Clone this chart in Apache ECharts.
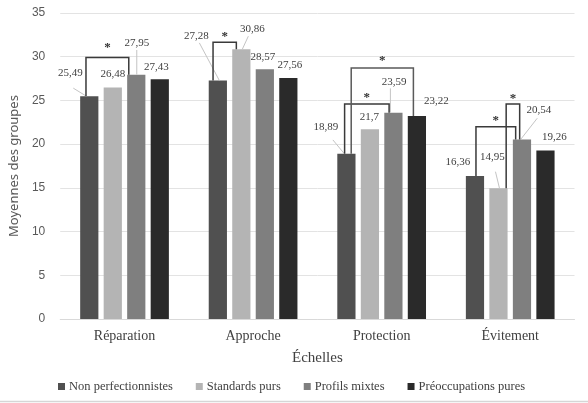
<!DOCTYPE html>
<html><head><meta charset="utf-8">
<script src="https://cdn.jsdelivr.net/npm/echarts@6/dist/echarts.min.js"></script>
<style>html,body{margin:0;padding:0;background:#fff}#c{width:588px;height:403px}</style>
</head><body><div id="c"></div>
<script>
// ---- data ----
const categories = ['Réparation', 'Approche', 'Protection', 'Évitement'];
const seriesNames = ['Non perfectionnistes', 'Standards purs', 'Profils mixtes', 'Préoccupations pures'];
const nonPerfectionnistes = [25.49, 27.28, 18.89, 16.36];
const standardsPurs = [26.48, 30.86, 21.7, 14.95];
const profilsMixtes = [27.95, 28.57, 23.59, 20.54];
const preoccupationsPures = [27.43, 27.56, 23.22, 19.26];
const yTicks = [0, 5, 10, 15, 20, 25, 30, 35];
// significance brackets: [category index, from series, to series, bracket top value]
const brackets = [
  [0, 0, 2, 29.9],
  [1, 0, 1, 31.65],
  [2, 0, 2, 24.6],
  [2, 0, 3, 28.7],
  [3, 0, 2, 22.0],
  [3, 1, 2, 24.6]
];

// ---- layout / style (pixels) ----
const seriesValues = [nonPerfectionnistes, standardsPurs, profilsMixtes, preoccupationsPures];
const colors = ['#505050', '#b4b4b4', '#7f7f7f', '#2a2a2a'];
const CAT_GAP = 0.31, BAR_GAP = 0.29;
// label offsets [dx, dy] from bar top centre, optional leader [barDx, labelDx, labelDy]
const labelLayout = [
  [[-19, -23, [-3, 3, 15]], [-21.5, -44.6, [1.5, 3, 7]], [-20.5, -26.6, [-2, 7, 12.7]], [-17, -14.3, null]],
  [[0, -13.6, null], [11, -20, [1, -4, 7]], [-0.5, -12.6, null], [-6, -31, [1, 3, 14.4]]],
  [[0.5, -31.7, [0.5, 0, 7]], [-2, -12.6, null], [0.7, -31, [-3, -3.7, 6.6]], [17, -29.5, [-1.3, -1.7, 8.3]]],
  [[-3.5, -12.3, null], [1.5, -13, null], [19.5, -14.4, null], [9, -13.4, null]]
];
// bracket end nudges [left dx, right dx, star gap]
const bracketNudge = [[-3.3, -7.5, 10], [-4.8, -5, 6], [-1.8, -4.3, 6], [4.8, -3.5, 7], [1, -6.3, 6], [7.7, -2.3, 5]];

function barX(api, c, s) {
  const center = api.coord([c, 0])[0];
  const band = api.size([1, 0])[0];
  const remain = band - band * CAT_GAP;
  const n = seriesValues.length;
  const bw = remain / (n + (n - 1) * BAR_GAP);
  const total = n * bw + (n - 1) * bw * BAR_GAP;
  return center - total / 2 + s * bw * (1 + BAR_GAP) + bw / 2;
}

const labelData = [];
seriesValues.forEach((arr, s) => arr.forEach((v, c) => labelData.push([c, v, s])));

const SERIF = '"Liberation Serif", "Times New Roman", serif';
const SANS = '"Liberation Sans", Arial, sans-serif';

const barSeries = seriesValues.map((arr, s) => ({
  name: seriesNames[s],
  type: 'bar',
  data: arr,
  barCategoryGap: (CAT_GAP * 100) + '%',
  barGap: (BAR_GAP * 100) + '%',
  itemStyle: { color: colors[s] },
  emphasis: { disabled: true },
  silent: true
}));

const chart = echarts.init(document.getElementById('c'), null, { renderer: 'canvas' });
chart.setOption({
  animation: false,
  backgroundColor: '#ffffff',
  grid: { left: 50.5, right: 13.5, top: 13, bottom: 84 },
  legend: {
    data: seriesNames,
    top: 375, left: 53,
    icon: 'rect', itemWidth: 7, itemHeight: 7, itemGap: 23,
    textStyle: { fontFamily: SERIF, fontSize: 12.5, color: '#404040', padding: [0, 0, 0, -1] },
    selectedMode: false
  },
  xAxis: {
    type: 'category',
    data: categories,
    name: 'Échelles',
    nameLocation: 'middle',
    nameGap: 32,
    nameTextStyle: { fontFamily: SERIF, fontSize: 15, color: '#404040' },
    axisLine: { lineStyle: { color: '#d9d9d9', width: 1 } },
    axisTick: { show: false },
    axisLabel: { fontFamily: SERIF, fontSize: 14, color: '#404040', margin: 10 }
  },
  yAxis: {
    type: 'value',
    min: yTicks[0], max: yTicks[yTicks.length - 1], interval: yTicks[1] - yTicks[0],
    name: 'Moyennes des groupes',
    nameLocation: 'middle',
    nameGap: 29,
    nameTextStyle: { fontFamily: '"Noto Sans", sans-serif', fontSize: 13, color: '#595959' },
    axisLine: { show: false },
    axisTick: { show: false },
    axisLabel: { fontFamily: SANS, fontSize: 12, color: '#595959', margin: 15 },
    splitLine: { lineStyle: { color: '#e3e3e3', width: 1 } }
  },
  graphic: [{
    type: 'line', silent: true,
    shape: { x1: 0, y1: 401.5, x2: 588, y2: 401.5 },
    style: { stroke: '#d6d6d6', lineWidth: 1.5 }
  }],
  series: barSeries.concat([
    {
      type: 'custom', name: 'labels', silent: true, z: 10, clip: false,
      data: labelData,
      renderItem: function (params, api) {
        const c = api.value(0), v = api.value(1), s = api.value(2);
        const x = barX(api, c, s);
        const yTop = api.coord([c, v])[1];
        const L = labelLayout[s][c];
        const lx = x + L[0], ly = yTop + L[1];
        const children = [];
        if (L[2]) {
          children.push({
            type: 'line',
            shape: { x1: x + L[2][0], y1: yTop, x2: lx + L[2][1], y2: ly + L[2][2] },
            style: { stroke: '#c4c4c4', lineWidth: 1 }
          });
        }
        children.push({
          type: 'text',
          style: {
            text: String(v).replace('.', ','), x: lx, y: ly,
            align: 'center', verticalAlign: 'middle',
            font: '11px ' + SERIF, fill: '#404040'
          }
        });
        return { type: 'group', children: children };
      }
    },
    {
      type: 'custom', name: 'brackets', silent: true, z: 11, clip: false,
      data: brackets.map(b => [b[0], b[3], b[1], b[2]]),
      renderItem: function (params, api) {
        const i = params.dataIndex;
        const c = api.value(0), top = api.value(1), s1 = api.value(2), s2 = api.value(3);
        const N = bracketNudge[i];
        const x1 = barX(api, c, s1) + N[0];
        const x2 = barX(api, c, s2) + N[1];
        const yT = api.coord([c, top])[1];
        const y1 = api.coord([c, seriesValues[s1][c]])[1];
        const y2 = api.coord([c, seriesValues[s2][c]])[1];
        return {
          type: 'group',
          children: [
            {
              type: 'polyline',
              shape: { points: [[x1, y1], [x1, yT], [x2, yT], [x2, y2]] },
              style: { stroke: i === 3 ? '#5a5a5a' : '#3a3a3a', lineWidth: 1.5, fill: null }
            },
            {
              type: 'text',
              style: {
                text: '*', x: (x1 + x2) / 2, y: yT - N[2],
                align: 'center', verticalAlign: 'middle',
                font: 'bold 13px ' + SERIF, fill: '#333333'
              }
            }
          ]
        };
      }
    }
  ])
});
</script>
</body></html>
